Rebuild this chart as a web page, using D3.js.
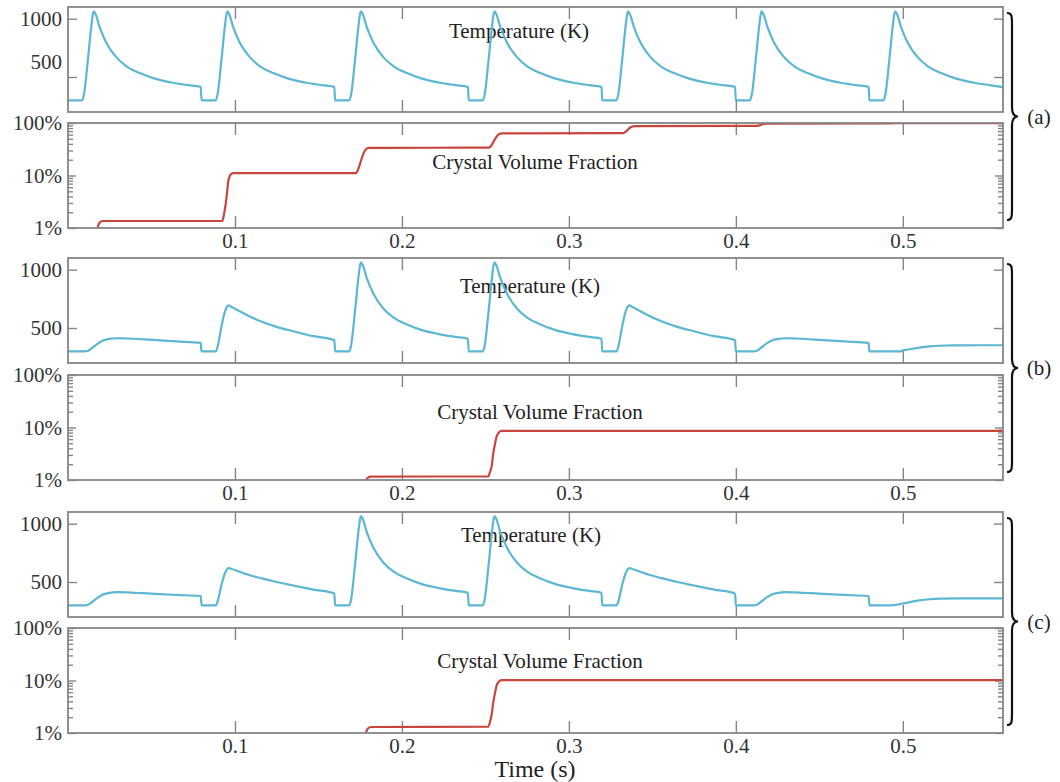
<!DOCTYPE html>
<html>
<head>
<meta charset="utf-8">
<script src="https://cdn.jsdelivr.net/npm/d3@7"></script>
<style>
  html, body { margin: 0; padding: 0; background: #fff; }
  svg { display: block; font-family: "Liberation Serif", "Times New Roman", serif; }
</style>
</head>
<body>
<script>
// Time axis ticks (s) and y tick values
const timeTicks = [0.1, 0.2, 0.3, 0.4, 0.5];
const tempTicks = [500, 1000];
const fracTicks = [1, 10, 100];
const fracMinorTicks = [2, 3, 4, 5, 6, 7, 8, 9, 20, 30, 40, 50, 60, 70, 80, 90];
const caseLabels = ["(a)", "(b)", "(c)"];

// Temperature (K) vs time (s), case (a)
const tempA = [
  [0,300],[0.0085,300],[0.0095,345],[0.012,660],[0.014,940],[0.015,1045],[0.0155,1062],[0.0165,1040],[0.019,925],[0.023,792],[0.029,668],[0.035,592],[0.043,534],[0.052,486],[0.062,453],[0.072,430],[0.0795,415],
  [0.08,300],[0.0885,300],[0.0895,345],[0.092,660],[0.094,940],[0.095,1045],[0.0955,1062],[0.0965,1040],[0.099,925],[0.103,792],[0.109,668],[0.115,592],[0.123,534],[0.132,486],[0.142,453],[0.152,430],[0.1595,415],
  [0.16,300],[0.1685,300],[0.1695,345],[0.172,660],[0.174,940],[0.175,1045],[0.1755,1062],[0.1765,1040],[0.179,925],[0.183,792],[0.189,668],[0.195,592],[0.203,534],[0.212,486],[0.222,453],[0.232,430],[0.2395,415],
  [0.24,300],[0.2485,300],[0.2495,345],[0.252,660],[0.254,940],[0.255,1045],[0.2555,1062],[0.2565,1040],[0.259,925],[0.263,792],[0.269,668],[0.275,592],[0.283,534],[0.292,486],[0.302,453],[0.312,430],[0.3195,415],
  [0.32,300],[0.3285,300],[0.3295,345],[0.332,660],[0.334,940],[0.335,1045],[0.3355,1062],[0.3365,1040],[0.339,925],[0.343,792],[0.349,668],[0.355,592],[0.363,534],[0.372,486],[0.382,453],[0.392,430],[0.3995,415],
  [0.40,300],[0.4085,300],[0.4095,345],[0.412,660],[0.414,940],[0.415,1045],[0.4155,1062],[0.4165,1040],[0.419,925],[0.423,792],[0.429,668],[0.435,592],[0.443,534],[0.452,486],[0.462,453],[0.472,430],[0.4795,415],
  [0.48,300],[0.4885,300],[0.4895,345],[0.492,660],[0.494,940],[0.495,1045],[0.4955,1062],[0.4965,1040],[0.499,925],[0.503,792],[0.509,668],[0.515,592],[0.523,534],[0.532,486],[0.542,453],[0.552,430],[0.56,413]
];

// Temperature (K) vs time (s), case (b)
const tempB = [
  [0,300],[0.010,300],[0.012,305],[0.015,335],[0.018,368],[0.021,392],[0.025,407],[0.029,412],[0.035,410],[0.045,403],[0.055,394],[0.065,385],[0.0795,372],
  [0.08,300],[0.0885,300],[0.0895,335],[0.092,520],[0.094,640],[0.0955,688],[0.0962,694],[0.098,680],[0.102,650],[0.108,605],[0.115,560],[0.125,510],[0.135,472],[0.147,430],[0.1595,396],
  [0.16,300],[0.1685,300],[0.1695,345],[0.172,660],[0.174,940],[0.175,1045],[0.1755,1062],[0.1765,1040],[0.179,925],[0.183,792],[0.189,665],[0.195,588],[0.203,530],[0.212,482],[0.222,448],[0.232,424],[0.2395,408],
  [0.24,300],[0.2485,300],[0.2495,345],[0.252,660],[0.254,940],[0.255,1045],[0.2555,1062],[0.2565,1040],[0.259,925],[0.263,792],[0.269,665],[0.275,588],[0.283,530],[0.292,482],[0.302,448],[0.312,424],[0.3195,408],
  [0.32,300],[0.3285,300],[0.3295,335],[0.332,520],[0.334,640],[0.3355,688],[0.3362,694],[0.338,680],[0.342,650],[0.348,605],[0.355,560],[0.365,510],[0.375,472],[0.387,430],[0.3995,396],
  [0.40,300],[0.4105,300],[0.4125,305],[0.4155,335],[0.4185,368],[0.4215,392],[0.4255,407],[0.4295,412],[0.435,410],[0.445,403],[0.455,394],[0.465,385],[0.4795,372],
  [0.48,300],[0.499,300],[0.4995,306],[0.504,318],[0.510,332],[0.516,342],[0.522,348],[0.530,351],[0.545,352],[0.56,352]
];

// Temperature (K) vs time (s), case (c)
const tempC = [
  [0,300],[0.010,300],[0.012,305],[0.015,335],[0.018,368],[0.021,392],[0.025,407],[0.029,413],[0.035,411],[0.045,404],[0.055,396],[0.065,389],[0.0795,380],
  [0.08,300],[0.0885,300],[0.0895,330],[0.092,480],[0.094,575],[0.0955,614],[0.0962,620],[0.098,612],[0.102,592],[0.108,562],[0.115,535],[0.125,500],[0.135,470],[0.147,435],[0.1595,402],
  [0.16,300],[0.1685,300],[0.1695,345],[0.172,660],[0.174,940],[0.175,1045],[0.1755,1065],[0.1765,1042],[0.179,925],[0.183,792],[0.189,665],[0.195,588],[0.203,530],[0.212,482],[0.222,448],[0.232,424],[0.2395,408],
  [0.24,300],[0.2485,300],[0.2495,345],[0.252,660],[0.254,940],[0.255,1045],[0.2555,1065],[0.2565,1042],[0.259,925],[0.263,792],[0.269,665],[0.275,588],[0.283,530],[0.292,482],[0.302,448],[0.312,424],[0.3195,408],
  [0.32,300],[0.3285,300],[0.3295,330],[0.332,480],[0.334,575],[0.3355,614],[0.3362,620],[0.338,612],[0.342,592],[0.348,562],[0.355,535],[0.365,500],[0.375,470],[0.387,435],[0.3995,402],
  [0.40,300],[0.4105,300],[0.4125,305],[0.4155,335],[0.4185,368],[0.4215,392],[0.4255,407],[0.4295,413],[0.435,411],[0.445,404],[0.455,396],[0.465,389],[0.4795,380],
  [0.48,300],[0.492,300],[0.496,304],[0.500,316],[0.505,330],[0.510,342],[0.516,352],[0.522,358],[0.535,360],[0.56,360]
];

// Crystal volume fraction (%) vs time (s)
const fracA = [
  [0.0176,1.0],[0.0185,1.2],[0.0195,1.32],[0.021,1.36],
  [0.0924,1.36],[0.0934,1.8],[0.0944,2.8],[0.0952,4.5],[0.096,7.8],[0.0974,10.4],[0.099,11.1],
  [0.1725,11.1],[0.1735,12.5],[0.175,17],[0.1765,24],[0.178,30.5],[0.180,33.5],
  [0.2523,34],[0.2535,37],[0.255,45],[0.2565,54],[0.258,60.5],[0.2597,63.5],
  [0.3325,64],[0.334,68],[0.3355,76],[0.337,83],[0.3385,86.5],[0.340,87.5],
  [0.4125,88],[0.414,90],[0.4155,94],[0.417,96.5],[0.419,97.5],
  [0.4925,97.8],[0.494,98.5],[0.496,99.5],[0.498,99.8],[0.56,99.8]
];
const fracB = [
  [0.1784,1.0],[0.1795,1.1],[0.1815,1.16],
  [0.2517,1.17],[0.2527,1.4],[0.2537,1.8],[0.2547,3.2],[0.2557,4.8],[0.2567,6.7],[0.258,8.0],[0.2597,8.6],
  [0.56,8.6]
];
const fracC = [
  [0.1784,1.0],[0.1795,1.2],[0.1815,1.3],
  [0.2517,1.32],[0.2527,1.6],[0.2537,2.2],[0.2547,3.8],[0.2557,5.7],[0.2567,8.0],[0.258,9.5],[0.2597,10.2],
  [0.56,10.2]
];

const W = 1060, H = 782;
const LEFT = 68, RIGHT = 1003, PANEL_H = 105;
const FRAME = "#858585", TEXT = "#333", BLUE = "#5bb7d3", RED = "#c8463e";
const FONT = '"Liberation Serif", "Times New Roman", serif';

const svg = d3.select("body").append("svg").attr("width", W).attr("height", H);

const x = d3.scaleLinear().domain([0, 0.56]).range([LEFT, RIGHT]);

const cases = [
  { temp: tempA, frac: fracA, label: caseLabels[0], tTop: 7,   fTop: 123, tTitle: [519, 24], fTitle: [535, 39], labelShift500: -15 },
  { temp: tempB, frac: fracB, label: caseLabels[1], tTop: 258, fTop: 375, tTitle: [530, 28], fTitle: [540, 37], labelShift500: 0 },
  { temp: tempC, frac: fracC, label: caseLabels[2], tTop: 512, fTop: 628, tTitle: [531, 23], fTitle: [540, 33], labelShift500: 0 }
];

let clipId = 0;
function panel(top) {
  const g = svg.append("g");
  const id = "clip" + (clipId++);
  svg.append("defs").append("clipPath").attr("id", id)
    .append("rect").attr("x", LEFT).attr("y", top).attr("width", RIGHT - LEFT).attr("height", PANEL_H);
  return { g, id };
}

function styleAxis(sel) {
  sel.select(".domain").remove();
  sel.selectAll(".tick line").attr("stroke", FRAME).attr("stroke-width", 1.4);
  sel.selectAll(".tick text").attr("fill", TEXT).style("font-size", "21px").style("font-family", FONT);
}

function timeTicksOn(g, top, withLabels) {
  const bottom = top + PANEL_H;
  g.append("g").attr("transform", `translate(0,${top})`)
    .call(d3.axisTop(x).tickValues(timeTicks).tickSize(-12).tickFormat(""))
    .call(styleAxis);
  g.append("g").attr("transform", `translate(0,${bottom})`)
    .call(d3.axisBottom(x).tickValues(timeTicks).tickSize(-12).tickPadding(5)
      .tickFormat(withLabels ? d3.format(".1f") : ""))
    .call(styleAxis);
}

function frame(g, top) {
  g.append("rect").attr("x", LEFT).attr("y", top).attr("width", RIGHT - LEFT).attr("height", PANEL_H)
    .attr("fill", "none").attr("stroke", FRAME).attr("stroke-width", 1.8);
}

function title(g, pos, top, text) {
  g.append("text").attr("x", pos[0]).attr("y", top + pos[1]).attr("dy", "0.35em")
    .attr("text-anchor", "middle").attr("fill", "#222").style("font-size", "21px").text(text);
}

cases.forEach(c => {
  // temperature panel
  const tp = panel(c.tTop);
  const yT = d3.scaleLinear().domain([200, 1100]).range([c.tTop + PANEL_H, c.tTop]);
  const tl = tp.g.append("g").attr("transform", `translate(${LEFT},0)`)
    .call(d3.axisLeft(yT).tickValues(tempTicks).tickSize(-9).tickPadding(6).tickFormat(d3.format("d")))
    .call(styleAxis);
  tl.selectAll(".tick").filter(d => d === 500).select("text").attr("y", c.labelShift500);
  tp.g.append("g").attr("transform", `translate(${RIGHT},0)`)
    .call(d3.axisRight(yT).tickValues(tempTicks).tickSize(-9).tickFormat(""))
    .call(styleAxis);
  timeTicksOn(tp.g, c.tTop, false);
  title(tp.g, c.tTitle, c.tTop, "Temperature (K)");
  tp.g.append("path").datum(c.temp)
    .attr("clip-path", `url(#${tp.id})`)
    .attr("fill", "none").attr("stroke", BLUE).attr("stroke-width", 2.2).attr("stroke-linejoin", "round")
    .attr("d", d3.line().x(d => x(d[0])).y(d => yT(d[1])).curve(d3.curveMonotoneX));
  frame(tp.g, c.tTop);

  // crystal volume fraction panel (log scale)
  const fp = panel(c.fTop);
  const yF = d3.scaleLog().domain([1, 100]).range([c.fTop + PANEL_H, c.fTop]);
  fp.g.append("g").attr("transform", `translate(${LEFT},0)`)
    .call(d3.axisLeft(yF).tickValues(fracTicks).tickSize(-8).tickPadding(6).tickFormat(d => d + "%"))
    .call(styleAxis);
  fp.g.append("g").attr("transform", `translate(${LEFT},0)`)
    .call(d3.axisLeft(yF).tickValues(fracMinorTicks).tickSize(-5).tickFormat(""))
    .call(styleAxis);
  fp.g.append("g").attr("transform", `translate(${RIGHT},0)`)
    .call(d3.axisRight(yF).tickValues(fracTicks).tickSize(-8).tickFormat(""))
    .call(styleAxis);
  fp.g.append("g").attr("transform", `translate(${RIGHT},0)`)
    .call(d3.axisRight(yF).tickValues(fracMinorTicks).tickSize(-5).tickFormat(""))
    .call(styleAxis);
  timeTicksOn(fp.g, c.fTop, true);
  title(fp.g, c.fTitle, c.fTop, "Crystal Volume Fraction");
  fp.g.append("path").datum(c.frac)
    .attr("clip-path", `url(#${fp.id})`)
    .attr("fill", "none").attr("stroke", RED).attr("stroke-width", 2.2).attr("stroke-linejoin", "round")
    .attr("d", d3.line().x(d => x(d[0])).y(d => yF(d[1])).curve(d3.curveMonotoneX));
  frame(fp.g, c.fTop);

  // curly brace grouping the pair of panels
  const y0 = c.tTop + 6, y1 = c.fTop + PANEL_H - 8, ym = (y0 + y1) / 2, bx = 1012;
  svg.append("path")
    .attr("d", `M${bx - 5},${y0} C${bx},${y0} ${bx},${y0 + 3} ${bx},${y0 + 12}
                L${bx},${ym - 9} C${bx},${ym - 3} ${bx + 2},${ym} ${bx + 6},${ym}
                C${bx + 2},${ym} ${bx},${ym + 3} ${bx},${ym + 9}
                L${bx},${y1 - 12} C${bx},${y1 - 3} ${bx},${y1} ${bx - 5},${y1}`)
    .attr("fill", "none").attr("stroke", "#111").attr("stroke-width", 2.2);
  svg.append("text").attr("x", 1039).attr("y", ym).attr("dy", "0.35em")
    .attr("text-anchor", "middle").attr("fill", "#222").style("font-size", "21px").text(c.label);
});

svg.append("text").attr("x", 535).attr("y", 769).attr("dy", "0.35em")
  .attr("text-anchor", "middle").attr("fill", "#222").style("font-size", "24px").text("Time (s)");
</script>
</body>
</html>
